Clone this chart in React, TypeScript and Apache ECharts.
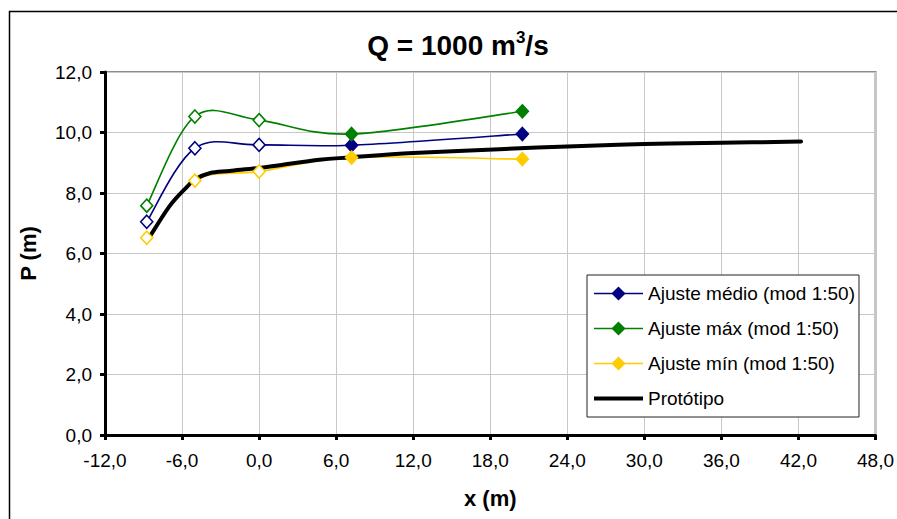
import React, { useEffect, useRef } from "react";
import * as echarts from "echarts";

// ---- data ----
const xAjuste = [-8.75, -5.0, 0.0, 7.2, 20.5];
const yMedio = [7.05, 9.48, 9.59, 9.58, 9.95];
const yMax = [7.58, 10.53, 10.41, 9.95, 10.7];
const yMin = [6.52, 8.41, 8.71, 9.17, 9.12];
const markerFilled = [false, false, false, true, true];

const xProto = [-8.75, -7.0, -5.6, -5.0, -3.8, -2.3, 0.0, 1.6, 4.7, 7.2, 12.0, 18.7, 24.0, 30.0, 36.0, 42.2];
const yProto = [6.39, 7.55, 8.21, 8.45, 8.66, 8.73, 8.83, 8.92, 9.1, 9.18, 9.32, 9.45, 9.54, 9.62, 9.66, 9.7];

const seriesNames = ["Ajuste médio (mod 1:50)", "Ajuste máx (mod 1:50)", "Ajuste mín (mod 1:50)", "Protótipo"];
const xTicks = { min: -12, max: 48, interval: 6 };
const yTicks = { min: 0, max: 12, interval: 2 };

const COLORS = ["#000080", "#008000", "#FFCC00", "#000000"];
const FONT = "'Liberation Sans', Arial, sans-serif";
const fmt = (v: number) => v.toFixed(1).replace(".", ",");

// Excel-like (Catmull-Rom) smoothed path through pixel points
function smoothPath(pts: number[][]): string {
  const n = pts.length;
  let d = `M${pts[0][0]},${pts[0][1]}`;
  for (let i = 0; i < n - 1; i++) {
    const p0 = pts[i - 1] || pts[i];
    const p1 = pts[i];
    const p2 = pts[i + 1];
    const p3 = pts[i + 2] || pts[i + 1];
    const c1x = p1[0] + (p2[0] - p0[0]) / 6;
    const c1y = p1[1] + (p2[1] - p0[1]) / 6;
    const c2x = p2[0] - (p3[0] - p1[0]) / 6;
    const c2y = p2[1] - (p3[1] - p1[1]) / 6;
    d += ` C${c1x},${c1y} ${c2x},${c2y} ${p2[0]},${p2[1]}`;
  }
  return d;
}

function curveSeries(id: string, xs: number[], ys: number[], color: string, width: number, z: number) {
  return {
    id,
    type: "custom",
    coordinateSystem: "cartesian2d",
    silent: true,
    z,
    encode: { x: 0, y: 1 },
    data: xs.map((x, i) => [x, ys[i]]),
    renderItem: (params: any, api: any) => {
      if (params.dataIndex !== 0) return null;
      const pts = xs.map((x, i) => api.coord([x, ys[i]]));
      return {
        type: "path",
        shape: { pathData: smoothPath(pts) },
        style: { stroke: color, fill: "none", lineWidth: width, lineJoin: "round", lineCap: "round" },
      };
    },
  };
}

function markerSeries(name: string, ys: number[], color: string) {
  return {
    name,
    type: "line",
    symbol: "diamond",
    symbolSize: [12, 13],
    lineStyle: { color, width: 1.6, opacity: 0 },
    itemStyle: { color, borderColor: color, borderWidth: 1.6 },
    data: xAjuste.map((x, i) =>
      markerFilled[i]
        ? { value: [x, ys[i]] }
        : { value: [x, ys[i]], itemStyle: { color: "#ffffff", borderColor: color, borderWidth: 1.6 } }
    ),
    z: 5,
  };
}

export default function App() {
  const ref = useRef<HTMLDivElement>(null);
  useEffect(() => {
    document.body.style.margin = "0";
    const chart = echarts.init(ref.current!, undefined, { renderer: "svg" });
    chart.setOption({
      animation: false,
      backgroundColor: "#ffffff",
      textStyle: { fontFamily: FONT },
      graphic: [
        {
          type: "rect",
          shape: { x: 9.5, y: 11.5, width: 1000, height: 1000 },
          style: { fill: "none", stroke: "#000", lineWidth: 1.5 },
          silent: true,
        },
        {
          type: "text",
          x: 458,
          y: 45,
          style: {
            text: "{a|Q = 1000 m}{b|3}{a|/s}",
            align: "center",
            verticalAlign: "middle",
            rich: {
              a: { fontSize: 28, fontWeight: "bold", fontFamily: FONT, fill: "#000", lineHeight: 32 },
              b: { fontSize: 17, fontWeight: "bold", fontFamily: FONT, fill: "#000", verticalAlign: "top", lineHeight: 17 },
            },
          },
        },
      ],
      grid: {
        left: 105,
        right: 21,
        top: 72,
        bottom: 84,
        show: true,
        borderColor: "#8c8c8c",
        borderWidth: 2,
      },
      legend: {
        orient: "vertical",
        left: 587,
        top: 275,
        padding: [9, 4, 9, 5],
        itemWidth: 49,
        itemHeight: 14,
        itemGap: 16,
        backgroundColor: "#fff",
        borderColor: "#222",
        borderWidth: 1,
        borderRadius: 0,
        textStyle: { fontSize: 19, color: "#000", fontFamily: FONT },
        data: [
          { name: seriesNames[0], lineStyle: { opacity: 1, width: 1.6, color: COLORS[0] } },
          { name: seriesNames[1], lineStyle: { opacity: 1, width: 1.6, color: COLORS[1] } },
          { name: seriesNames[2], lineStyle: { opacity: 1, width: 1.6, color: COLORS[2] } },
          { name: seriesNames[3], itemStyle: { opacity: 0 }, lineStyle: { opacity: 1, width: 4, color: COLORS[3] } },
        ],
      },
      xAxis: {
        type: "value",
        min: xTicks.min,
        max: xTicks.max,
        interval: xTicks.interval,
        name: "x (m)",
        nameLocation: "middle",
        nameGap: 52,
        nameTextStyle: { fontSize: 22, fontWeight: "bold", color: "#000", fontFamily: FONT },
        axisLine: { onZero: false, lineStyle: { color: "#000", width: 3 } },
        axisTick: { show: true, length: 5, lineStyle: { color: "#000", width: 3 } },
        axisLabel: { fontSize: 19, color: "#000", margin: 16, formatter: fmt, fontFamily: FONT },
        splitLine: { show: true, lineStyle: { color: "#c8c8c8", width: 1 } },
      },
      yAxis: {
        type: "value",
        min: yTicks.min,
        max: yTicks.max,
        interval: yTicks.interval,
        name: "P (m)",
        nameLocation: "middle",
        nameRotate: 90,
        nameGap: 66,
        nameTextStyle: { fontSize: 22, fontWeight: "bold", color: "#000", fontFamily: FONT },
        axisLine: { show: true, onZero: false, lineStyle: { color: "#000", width: 3 } },
        axisTick: { show: true, length: 5, lineStyle: { color: "#000", width: 3 } },
        axisLabel: { fontSize: 19, color: "#000", margin: 13, formatter: fmt, fontFamily: FONT },
        splitLine: { show: true, lineStyle: { color: "#c8c8c8", width: 1 } },
      },
      series: [
        curveSeries("c0", xAjuste, yMedio, COLORS[0], 1.6, 2),
        curveSeries("c1", xAjuste, yMax, COLORS[1], 1.6, 2),
        curveSeries("c2", xAjuste, yMin, COLORS[2], 1.6, 2),
        curveSeries("c3", xProto, yProto, COLORS[3], 4, 3),
        markerSeries(seriesNames[0], yMedio, COLORS[0]),
        markerSeries(seriesNames[1], yMax, COLORS[1]),
        markerSeries(seriesNames[2], yMin, COLORS[2]),
        {
          name: seriesNames[3],
          type: "line",
          symbol: "none",
          showSymbol: false,
          lineStyle: { color: COLORS[3], width: 4, opacity: 0 },
          itemStyle: { color: COLORS[3] },
          data: xProto.map((x, i) => [x, yProto[i]]),
          z: 1,
        },
      ],
    });
    return () => chart.dispose();
  }, []);
  return <div ref={ref} style={{ position: "fixed", left: 0, top: 0, width: 897, height: 519 }} />;
}
